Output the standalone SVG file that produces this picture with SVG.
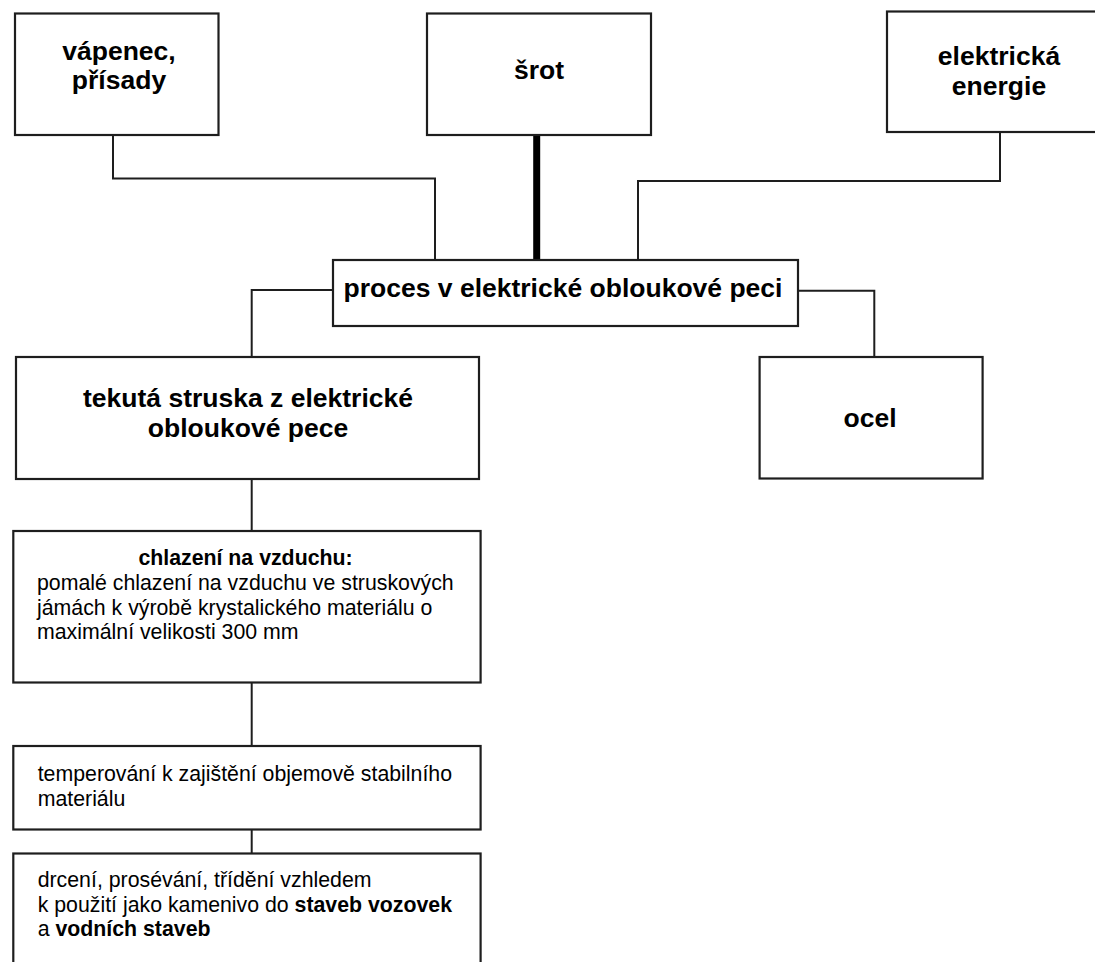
<svg xmlns="http://www.w3.org/2000/svg" width="1095" height="962" viewBox="0 0 1095 962">
<style>
.box{fill:#fff;stroke:#1e1e1e;stroke-width:2.2}
.ln{fill:none;stroke:#1e1e1e;stroke-width:2}
.thick{fill:none;stroke:#000;stroke-width:7}
.t{font-family:"Liberation Sans",Arial,sans-serif;fill:#000}
.big{font-size:26.5px;font-weight:bold;text-anchor:middle}
.sm{font-size:21.3px}
.b{font-weight:bold}
</style>
<rect width="1095" height="962" fill="#fff"/>
<g id="connectors">
<polyline class="ln" points="113,135 113,178.5 435,178.5 435,260"/>
<line class="thick" x1="536.7" y1="135" x2="536.7" y2="260"/>
<polyline class="ln" points="1000,132 1000,181 638,181 638,260"/>
<polyline class="ln" points="333,290 251.7,290 251.7,357"/>
<polyline class="ln" points="798,290.7 874.3,290.7 874.3,357"/>
<line class="ln" x1="251.7" y1="479" x2="251.7" y2="531"/>
<line class="ln" x1="251.7" y1="682.5" x2="251.7" y2="746"/>
<line class="ln" x1="251.7" y1="829.5" x2="251.7" y2="853.5"/>
</g>
<g id="n_vapenec">
<rect class="box" x="15" y="13.5" width="203.5" height="121.5"/>
<text class="t big" x="119" y="60">vápenec,</text>
<text class="t big" x="119" y="89">přísady</text>
</g>
<g id="n_srot">
<rect class="box" x="427" y="13.5" width="224" height="121.5"/>
<text class="t big" x="539" y="79">šrot</text>
</g>
<g id="n_energie">
<rect class="box" x="887" y="11.5" width="230" height="120.5"/>
<text class="t big" x="999" y="65">elektrická</text>
<text class="t big" x="999" y="95">energie</text>
</g>
<g id="n_proces">
<rect class="box" x="333" y="260" width="465" height="66"/>
<text class="t big" x="563" y="297">proces v elektrické obloukové peci</text>
</g>
<g id="n_struska">
<rect class="box" x="16" y="357" width="463" height="122"/>
<text class="t big" x="248" y="407">tekutá struska z elektrické</text>
<text class="t big" x="248" y="437">obloukové pece</text>
</g>
<g id="n_ocel">
<rect class="box" x="759.6" y="357" width="223" height="121.5"/>
<text class="t big" x="870" y="427">ocel</text>
</g>
<g id="n_chlazeni">
<rect class="box" x="13.3" y="531" width="467.3" height="151.5"/>
<text class="t sm b" x="245.5" y="565" text-anchor="middle">chlazení na vzduchu:</text>
<text class="t sm" x="37" y="590">pomalé chlazení na vzduchu ve struskových</text>
<text class="t sm" x="37" y="614.5">jámách k výrobě krystalického materiálu o</text>
<text class="t sm" x="37" y="639">maximální velikosti 300 mm</text>
</g>
<g id="n_temperovani">
<rect class="box" x="13.3" y="746" width="467.3" height="83.5"/>
<text class="t sm" x="37.7" y="781">temperování k zajištění objemově stabilního</text>
<text class="t sm" x="37.7" y="805.7">materiálu</text>
</g>
<g id="n_drceni">
<rect class="box" x="13.3" y="853.5" width="467.3" height="130"/>
<text class="t sm" x="37.7" y="887.3">drcení, prosévání, třídění vzhledem</text>
<text class="t sm" x="37.7" y="911.5">k použití jako kamenivo do <tspan class="b">staveb vozovek</tspan></text>
<text class="t sm" x="37.7" y="936">a <tspan class="b">vodních staveb</tspan></text>
</g>
</svg>
